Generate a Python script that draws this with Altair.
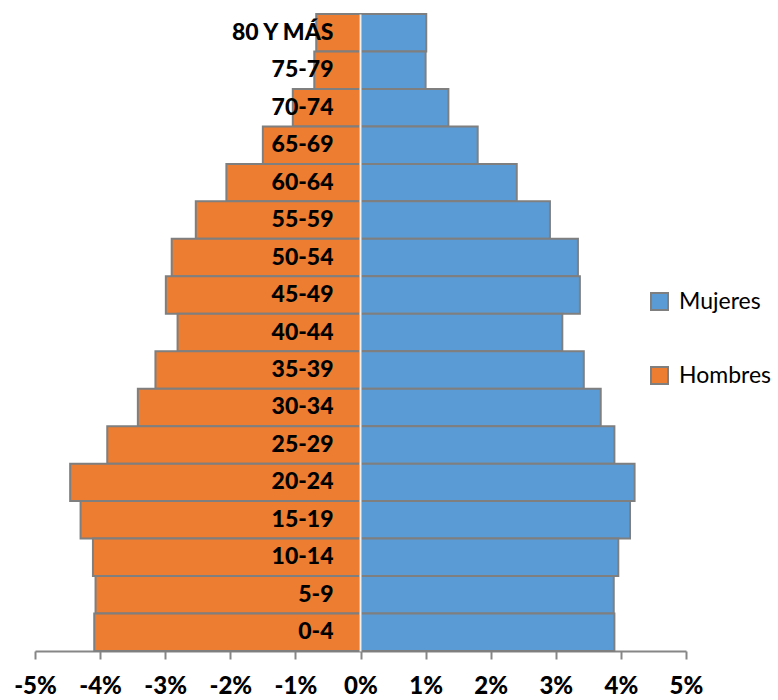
import altair as alt
import pandas as pd

ages = ["80 Y MÁS", "75-79", "70-74", "65-69", "60-64", "55-59", "50-54", "45-49",
        "40-44", "35-39", "30-34", "25-29", "20-24", "15-19", "10-14", "5-9", "0-4"]
hombres = [0.68, 0.71, 1.04, 1.50, 2.06, 2.53, 2.90, 2.99,
           2.81, 3.15, 3.42, 3.89, 4.46, 4.30, 4.11, 4.07, 4.09]
mujeres = [1.01, 1.00, 1.35, 1.80, 2.40, 2.91, 3.34, 3.37,
           3.10, 3.43, 3.69, 3.90, 4.21, 4.14, 3.96, 3.89, 3.90]
series = ["Mujeres", "Hombres"]
colors = ["#5B9BD5", "#ED7D31"]
ticks = [-5, -4, -3, -2, -1, 0, 1, 2, 3, 4, 5]

rows = []
for a, h, m in zip(ages, hombres, mujeres):
    rows.append({"age": a, "sexo": "Hombres", "v": -h})
    rows.append({"age": a, "sexo": "Mujeres", "v": m})
df = pd.DataFrame(rows)

FONT = "Lato"

chart = alt.Chart(df).mark_bar(stroke="#7F7F7F", strokeWidth=2).encode(
    x=alt.X("v:Q", stack=None,
            scale=alt.Scale(domain=[-5, 5], nice=False),
            axis=alt.Axis(values=ticks, title=None, grid=False,
                          labelExpr="datum.value + '%'",
                          labelFlush=False, labelOverlap=False,
                          labelFont=FONT, labelFontSize=24, labelFontWeight=900,
                          labelColor="black", labelPadding=15,
                          domainColor="#868686", domainWidth=2,
                          tickColor="#868686", tickWidth=2, tickSize=8)),
    y=alt.Y("age:N", sort=ages,
            scale=alt.Scale(paddingInner=0, paddingOuter=0),
            axis=alt.Axis(title=None, orient="left", offset=-325, zindex=1,
                          ticks=False, tickSize=0, labelPadding=27,
                          labelOverlap=False,
                          labelFont=FONT, labelFontSize=23, labelFontWeight=900,
                          labelColor="black",
                          domainColor="#F2F2F2", domainWidth=2)),
    color=alt.Color("sexo:N",
                    scale=alt.Scale(domain=series, range=colors),
                    legend=alt.Legend(title=None, orient="none", legendX=613, legendY=276,
                                      symbolType="square", symbolSize=289,
                                      symbolStrokeColor="#7F7F7F", symbolStrokeWidth=2,
                                      labelFont=FONT, labelFontSize=23, labelColor="black",
                                      labelOffset=8, rowPadding=49)),
).properties(
    width=651, height=637,
    background="white",
    autosize=alt.AutoSizeParams(type="none"),
    padding={"left": 35, "top": 14, "right": 92, "bottom": 49},
).configure_view(stroke=None)

chart.save("out.html", embed_options={"renderer": "svg", "actions": False})
